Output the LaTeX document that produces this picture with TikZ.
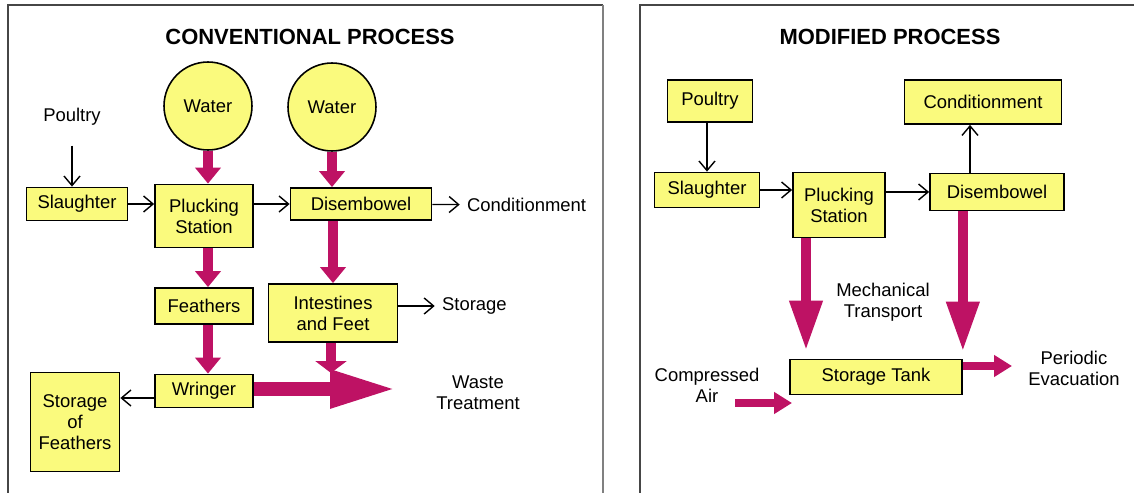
\documentclass[tikz,border=0pt]{standalone}
\usepackage{fontspec}
\setmainfont{Liberation Sans}
\usetikzlibrary{arrows.meta, positioning}

\definecolor{boxyellow}{RGB}{250,250,125}
\definecolor{flowred}{RGB}{190,18,100}
\definecolor{framegray}{RGB}{70,70,70}

\begin{document}
\begin{tikzpicture}[
    x=0.02cm, y=-0.02cm,
    font=\fontsize{10.5}{12}\selectfont,
    block/.style={rectangle, draw, line width=1pt, fill=boxyellow, align=center, inner sep=1pt},
    water/.style={circle, draw, line width=0.9pt, fill=boxyellow, minimum size=1.76cm, inner sep=0pt},
    tag/.style={align=center, inner sep=1pt},
    title/.style={font=\fontsize{12.5}{14}\selectfont\bfseries},
    line/.style={draw, line width=0.7pt, -{Straight Barb[length=1.9mm, width=3.2mm, line width=0.8pt]}},
    flow/.style={draw=flowred, line width=0.2cm, -{Triangle[length=0.32cm, width=0.5cm]}, color=flowred},
    bigflow/.style={draw=flowred, line width=0.2cm, -{Triangle[length=1cm, width=0.62cm]}, color=flowred},
    sideflow/.style={draw=flowred, line width=0.16cm, -{Triangle[length=0.36cm, width=0.42cm]}, color=flowred}
]
    \useasboundingbox (0,0) rectangle (1134,493);

    % Panel frames
    \draw[framegray, line width=1.1pt] (8,493) -- (8,5) -- (603,5);
    \draw[gray, line width=1.1pt] (603,5) -- (603,493);
    \draw[framegray, line width=1.1pt] (640,493) -- (640,5) -- (1134,5);

    % ---------------- Conventional process ----------------
    \node[title] (title1) at (310,37) {CONVENTIONAL PROCESS};

    \node[water] (water1) at (208,106) {Water};
    \node[water] (water2) at (332,107) {Water};
    \node[tag] (poultry) at (72,117) {Poultry};

    \node[block, minimum width=2.02cm, minimum height=0.66cm] (slaughter) at (77,204) {Slaughter};
    \node[block, minimum width=1.96cm, minimum height=1.26cm] (pluck) at (204,216) {Plucking\\Station};
    \node[block, minimum width=2.82cm, minimum height=0.64cm] (dis) at (361,204) {Disembowel};
    \node[tag, anchor=west] (cond) at (465,205) {Conditionment};

    \node[block, minimum width=1.96cm, minimum height=0.72cm] (feathers) at (204,306) {Feathers};
    \node[block, minimum width=2.58cm, minimum height=1.16cm] (intest) at (333,313) {Intestines\\and Feet};
    \node[tag, anchor=west] (storage) at (440,306) {Storage};

    \node[block, minimum width=1.96cm, minimum height=0.66cm] (wringer) at (204,391) {Wringer};
    \node[block, minimum width=1.78cm, minimum height=1.98cm] (storfeath) at (75,422) {Storage\\of\\Feathers};
    \node[tag] (waste) at (478,393) {Waste\\Treatment};
    \coordinate (wasteend) at (397,389);
    \coordinate (wastein) at (331,373);

    % thin arrows
    \path[line] ([yshift=-0.36cm]poultry.south) -- (poultry.south |- slaughter.north);
    \path[line] (slaughter) -- (slaughter -| pluck.west);
    \path[line] (dis -| pluck.east) -- (dis);
    \path[line, shorten >=3pt] (dis) -- (cond);
    \path[line, shorten >=3pt] (intest.east |- storage) -- (storage);
    \path[line] (wringer.west |- 0,398) -- (storfeath.east |- 0,398);

    % thick arrows
    \path[flow] (water1.south) -- (water1.south |- pluck.north);
    \path[flow] (water2.south) -- (water2.south |- dis.north);
    \path[flow] (pluck.south -| 208,0) -- (feathers.north -| 208,0);
    \path[flow] (dis.south -| intest) -- (intest.north);
    \path[flow] (feathers.south -| 208,0) -- (wringer.north -| 208,0);
    \path[flow, -{Triangle[length=0.24cm, width=0.62cm]}] (intest.south -| wastein) -- (wastein);
    \path[draw=flowred, line width=0.28cm, -{Triangle[length=1.34cm, width=0.7cm]}, color=flowred] (wringer.east |- wasteend) -- (wasteend);

    % ---------------- Modified process ----------------
    \node[title] (title2) at (890,37) {MODIFIED PROCESS};

    \node[block, minimum width=1.7cm, minimum height=0.84cm] (poultry2) at (710,101) {Poultry};
    \node[block, minimum width=3.14cm, minimum height=0.88cm] (cond2) at (983,102) {Conditionment};
    \node[block, minimum width=2.1cm, minimum height=0.7cm] (slaughter2) at (707,190) {Slaughter};
    \node[block, minimum width=1.84cm, minimum height=1.3cm] (pluck2) at (839,205) {Plucking\\Station};
    \node[block, minimum width=2.68cm, minimum height=0.74cm] (dis2) at (997,192) {Disembowel};

    \node[tag] (mech) at (883,302) {Mechanical\\Transport};
    \node[block, minimum width=3.44cm, minimum height=0.7cm] (tank) at (876,377) {Storage Tank};
    \node[tag] (air) at (707,385) {Compressed\\Air};
    \node[tag] (periodic) at (1074,368) {Periodic\\Evacuation};
    \coordinate (airstart) at (735,403);
    \coordinate (airend) at (792,403);
    \coordinate (evacend) at (1012,366);

    % thin arrows
    \path[line] (poultry2.south -| slaughter2) -- (slaughter2);
    \path[line] (slaughter2) -- (slaughter2 -| pluck2.west);
    \path[line] (dis2 -| pluck2.east) -- (dis2);
    \path[line] (dis2.north -| 970,0) -- (cond2.south -| 970,0);

    % thick arrows
    \path[bigflow, shorten >=0.16cm] (pluck2.south -| 806,0) -- (tank.north -| 806,0);
    \path[bigflow, shorten >=0.14cm] (dis2.south -| tank.east) -- (tank.north east);
    \path[sideflow] (tank.east |- evacend) -- (evacend);
    \path[sideflow] (airstart) -- (airend);

\end{tikzpicture}
\end{document}
